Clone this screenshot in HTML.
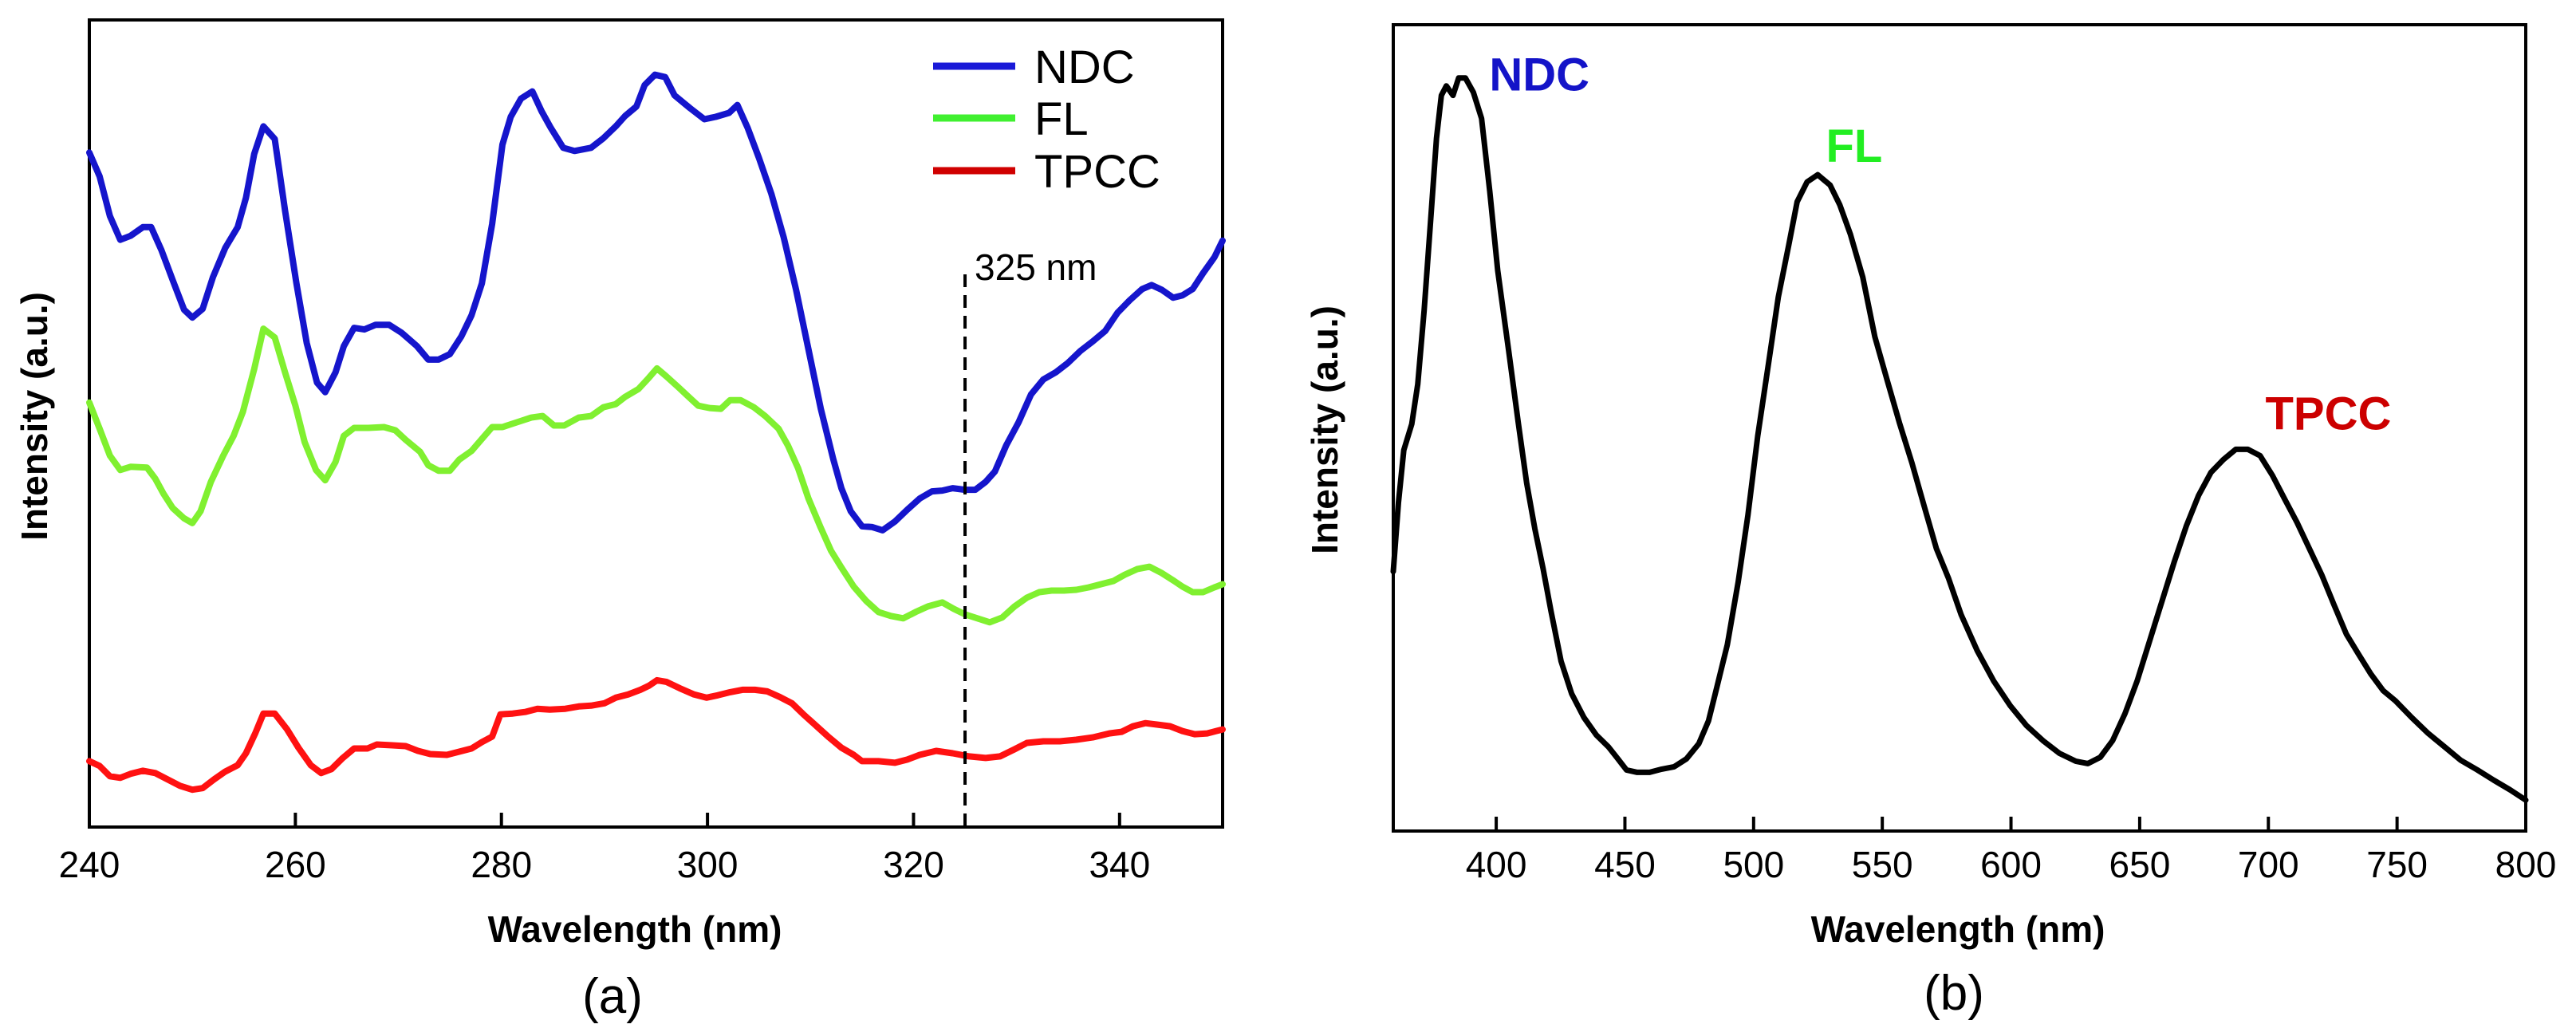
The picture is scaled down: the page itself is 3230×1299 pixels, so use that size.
<!DOCTYPE html>
<html><head><meta charset="utf-8"><style>
html,body{margin:0;padding:0;background:#fff;}
svg{display:block;font-family:"Liberation Sans",Arial,sans-serif;}
</style></head><body>
<svg id="fig" width="3230" height="1299" viewBox="0 0 3230 1299" xmlns="http://www.w3.org/2000/svg">
<g id="pa"></g>
<g id="pb"></g>
</svg>
<script>
// ---- Panel (a) data ----
const ndcX=[240,241,242,243,244,245.2,246,247,248.1,249.2,250,251,252,253.2,254.4,255.2,256,256.9,258,259,260.1,261.1,262.1,262.9,263.9,264.7,265.7,266.7,267.8,269.1,270.3,271.8,272.9,273.9,275,276.1,277.1,278.1,279.1,280.1,280.9,281.9,283,283.9,284.8,286,287.1,288.7,289.9,291.1,292,293.1,293.9,294.9,295.9,296.8,298.3,299.7,300.8,302.1,302.9,303.9,305,306.2,307.4,308.6,309.8,311,312.2,313,313.9,315,316,317,318.2,319.4,320.6,321.8,322.8,323.8,325,326,327,327.9,329,330.2,331.4,332.6,333.8,335,336.2,337.4,338.6,339.8,341,342.2,343.1,344.1,345.2,346.1,347.1,348.1,349.2,350];
const ndcY=[85,82,77,74,74.5,75.6,75.6,72.7,68.9,65.2,64.2,65.3,69.3,73,75.6,79.3,84.8,88.3,86.7,77.7,68.5,61,56,54.8,57.3,60.6,62.9,62.7,63.3,63.3,62.3,60.6,58.9,58.9,59.6,61.8,64.5,68.5,76,86,89.5,91.8,92.7,90.2,88.1,85.6,85.2,85.6,86.8,88.3,89.6,90.8,93.5,94.8,94.5,92.2,90.6,89.2,89.5,90,91,88.1,84.3,79.8,74.3,67.7,60.2,52.7,46.4,42.7,39.8,37.9,37.8,37.4,38.5,40,41.4,42.3,42.4,42.7,42.5,42.5,43.5,44.8,48.1,51,54.5,56.4,57.3,58.5,60,61.2,62.5,64.8,66.4,67.8,68.3,67.7,66.7,67,67.8,69.8,71.8,73.9];
const flX=[240,241,242,243,244,245.6,246.4,247.2,248.1,249.2,250,250.8,251.8,253,254,254.9,256,256.9,258,259,260,260.9,262,262.9,263.9,264.7,265.7,267.1,268.6,269.7,270.7,272.1,272.9,273.9,275,275.9,277.1,278.1,279.1,280.1,281.5,282.9,284,285.1,286.1,287.5,288.7,289.9,291.1,292,293.3,294.3,295.1,296,297.2,298.1,299.1,300.2,301.3,302.2,303.2,304.5,305.6,306.9,307.8,308.8,309.8,311,312,313,314.2,315.4,316.6,317.8,319,320.2,321.4,322.8,323.9,325,326.2,327.4,328.6,329.8,331,332.2,333.4,334.6,335.8,337,338.2,339.4,340.5,341.7,342.9,344.1,345.3,346.1,347.1,348.1,349.2,350];
const flY=[53.5,50.2,46.8,45,45.4,45.3,43.9,42,40.2,38.9,38.3,39.8,43.5,46.8,49.3,52.3,57.7,62.8,61.7,57.3,53.1,48.5,45,43.7,46,49.3,50.3,50.3,50.4,50,48.8,47.3,45.6,44.9,44.9,46.3,47.4,48.9,50.4,50.4,51,51.6,51.8,50.6,50.6,51.6,51.8,52.9,53.3,54.2,55.2,56.6,57.8,56.8,55.4,54.3,53.1,52.8,52.7,53.8,53.8,52.9,51.8,50.2,48.1,45.2,41.4,37.7,34.8,32.7,30.3,28.5,27.1,26.6,26.3,27.1,27.8,28.3,27.5,26.8,26.3,25.8,26.4,27.8,28.9,29.6,29.8,29.8,29.9,30.2,30.6,31,31.8,32.5,32.8,32,31,30.3,29.6,29.6,30.2,30.6];
const tpX=[240,241,242,243,244,245.2,246.4,247.6,248.8,250,251,252.1,253.2,254.4,255.2,256.1,256.9,258,259.2,260.3,261.5,262.5,263.5,264.6,265.7,267,267.9,269.4,270.7,271.9,273.1,274.7,275.9,277.1,278.1,279.1,279.9,281.1,282.3,283.5,284.7,286.2,287.5,288.7,290,291.1,292.3,293.5,294.3,295.1,296,297.3,298.7,299.9,301,302.2,303.4,304.6,305.8,307,308.2,309.4,310.6,311.8,313,314.2,315,316.6,318.2,319.4,320.6,322.2,323.8,325.4,327,328.4,329.8,331,332.6,334.2,335.8,337.4,339,340.2,341.3,342.5,343.7,344.9,346.1,347.3,348.5,350];
const tpY=[8.3,7.7,6.4,6.2,6.7,7.1,6.8,6,5.2,4.7,4.9,6,7,7.8,9.3,11.8,14.3,14.3,12.3,10,7.8,6.8,7.3,8.7,9.9,9.9,10.4,10.3,10.2,9.6,9.2,9.1,9.5,9.9,10.7,11.4,14.2,14.3,14.5,14.9,14.8,14.9,15.2,15.3,15.6,16.3,16.7,17.3,17.8,18.5,18.3,17.5,16.7,16.3,16.6,17,17.3,17.3,17.1,16.4,15.6,14.1,12.7,11.3,10,9.1,8.3,8.3,8.1,8.5,9.1,9.6,9.3,8.9,8.7,8.9,9.8,10.6,10.8,10.8,11,11.3,11.8,12,12.7,13.1,12.9,12.7,12.1,11.7,11.8,12.3];
const aTicks=[240,260,280,300,320,340];
const aMarker=325;
// ---- Panel (b) data ----
const plX=[360,362,364.1,367.2,369.5,372,374.6,376.8,378.7,380.6,383.2,385.4,388,391.1,394.3,397.5,400.6,404.8,408.6,411.8,415,418.2,421.3,425.2,429.3,434.1,438.9,443.6,446.8,450.6,454.8,459.6,464.3,469.1,473.9,478.7,482.5,485.7,489.8,494,497.8,501.6,505.8,509.6,513.7,516.9,520.8,524.9,529.7,533.5,537.6,542.4,547.1,551.9,556.7,561.5,566.2,571,575.8,580.6,586.9,593.3,599.7,606,612.4,618.8,625.1,629.9,634.7,639.5,644.3,649,653.8,658.6,663.4,668.2,672.9,677.7,682.5,687.3,692,696.8,701.6,706.4,711.1,715.9,720.7,725.5,730.3,735,739.8,744.6,749.4,755.7,762.1,768.5,774.8,781.2,787.6,793.9,800];
const plY=[32.7,41.4,48,51.3,56.3,65.6,77.3,87.3,92.7,93.9,92.7,94.9,94.9,93.1,89.8,80.6,70.6,60.6,51.4,43.9,38.1,33.1,27.7,21.4,17.3,14.3,12.1,10.6,9.3,7.7,7.4,7.4,7.8,8.1,9.1,11,13.9,18.1,23.5,31.4,39.8,49.8,58.9,67.3,73.9,79.3,81.8,82.7,81.4,78.9,75.2,69.8,62.3,56.8,51.4,46.4,41,35.6,31.8,27.3,22.7,18.9,15.8,13.3,11.4,9.8,8.8,8.5,9.3,11.4,14.8,18.9,23.9,28.9,33.9,38.5,42.3,45.2,46.8,48.1,48.1,47.3,44.8,41.8,38.9,35.6,32.3,28.5,24.8,22.3,19.8,17.7,16.4,14.3,12.3,10.6,8.9,7.7,6.4,5.2,3.9];
const bTicks=[400,450,500,550,600,650,700,750,800];
const bPeakLabels=["NDC","FL","TPCC"];
const bPeakX=[388,525,692];
const bPeakY=[94.9,82.7,48.1];

const NS="http://www.w3.org/2000/svg";
function mk(tag,attrs,parent,text){const e=document.createElementNS(NS,tag);for(const k in attrs)e.setAttribute(k,attrs[k]);if(text!==undefined)e.textContent=text;parent.appendChild(e);return e;}

// Panel a axes
const aL=112,aR=1533,aT=25,aB=1037;
const ax=v=>aL+(v-240)/(350-240)*(aR-aL);
const ay=v=>aB-v*9.95;
const pa=document.getElementById('pa');
const frameA=mk('rect',{x:aL,y:aT,width:aR-aL,height:aB-aT,fill:'none',stroke:'#000','stroke-width':4},pa);


aTicks.forEach(t=>{
  const tk=mk('line',{x1:ax(t),x2:ax(t),y1:aB,y2:aB-18,stroke:'#000','stroke-width':4},pa);
  
  
  const lb=mk('text',{x:ax(t),y:1100,'font-size':46,'text-anchor':'middle'},pa,String(t));
  
  
});
function series(xs,ys,color,name,g,fx,fy,w){
  let d='';xs.forEach((x,i)=>{d+=(i?'L':'M')+fx(x).toFixed(1)+','+fy(ys[i]).toFixed(1);});
  const p=mk('path',{d:d,fill:'none',stroke:color,'stroke-width':w,'stroke-linejoin':'round','stroke-linecap':'round'},g);
  
  
}
series(tpX,tpY,'#ff1111','tpcc-line',pa,ax,ay,8);
series(flX,flY,'#80f030','fl-line',pa,ax,ay,8);
series(ndcX,ndcY,'#1515cc','ndc-line',pa,ax,ay,8);
const mLine=mk('line',{x1:ax(aMarker),x2:ax(aMarker),y1:344,y2:aB,stroke:'#000','stroke-width':4,'stroke-dasharray':'16,10'},pa);


const mLab=mk('text',{x:ax(aMarker)+12,y:351,'font-size':46},pa,'325 nm');


const legNames=['NDC','FL','TPCC'],legCols=['#1a1ad8','#40f030','#d00000'],legY=[83,148,214];
legNames.forEach((n,i)=>{
  const l=mk('line',{x1:1170,x2:1273,y1:legY[i],y2:legY[i],stroke:legCols[i],'stroke-width':9},pa);
  
  
  const t=mk('text',{x:1297,y:legY[i]+21,'font-size':58},pa,n);
  
  
});
const xtA=mk('text',{x:796,y:1181,'font-size':46,'font-weight':'bold','text-anchor':'middle'},pa,'Wavelength (nm)');


const ytA=mk('text',{x:0,y:0,'font-size':46,'font-weight':'bold','text-anchor':'middle',transform:'translate(59,522) rotate(-90)'},pa,'Intensity (a.u.)');


const capA=mk('text',{x:768,y:1270,'font-size':62,'text-anchor':'middle'},pa,'(a)');



// Panel b
const bL=1747,bR=3167,bT=31,bB=1042;
const bx=v=>bL+(v-360)/(800-360)*(bR-bL);
const by=v=>bB-v*9.95;
const pb=document.getElementById('pb');
const frameB=mk('rect',{x:bL,y:bT,width:bR-bL,height:bB-bT,fill:'none',stroke:'#000','stroke-width':4},pb);


bTicks.forEach(t=>{
  const tk=mk('line',{x1:bx(t),x2:bx(t),y1:bB,y2:bB-18,stroke:'#000','stroke-width':4},pb);
  
  
  const lb=mk('text',{x:bx(t),y:1100,'font-size':46,'text-anchor':'middle'},pb,String(t));
  
  
});
series(plX,plY,'#000','pl-spectrum-line',pb,bx,by,7);
const pkCols=['#1414c8','#22ee22','#cc0000'];
const pkDx=[30,10,22],pkDy=[-16,16,25];
bPeakLabels.forEach((n,i)=>{
  const t=mk('text',{x:bx(bPeakX[i])+pkDx[i],y:by(bPeakY[i])-pkDy[i],'font-size':58,'font-weight':'bold',fill:pkCols[i]},pb,n);
  
  
});
const xtB=mk('text',{x:2455,y:1181,'font-size':46,'font-weight':'bold','text-anchor':'middle'},pb,'Wavelength (nm)');


const ytB=mk('text',{x:0,y:0,'font-size':46,'font-weight':'bold','text-anchor':'middle',transform:'translate(1677,539) rotate(-90)'},pb,'Intensity (a.u.)');


const capB=mk('text',{x:2450,y:1266,'font-size':62,'text-anchor':'middle'},pb,'(b)');


</script>
</body></html>
